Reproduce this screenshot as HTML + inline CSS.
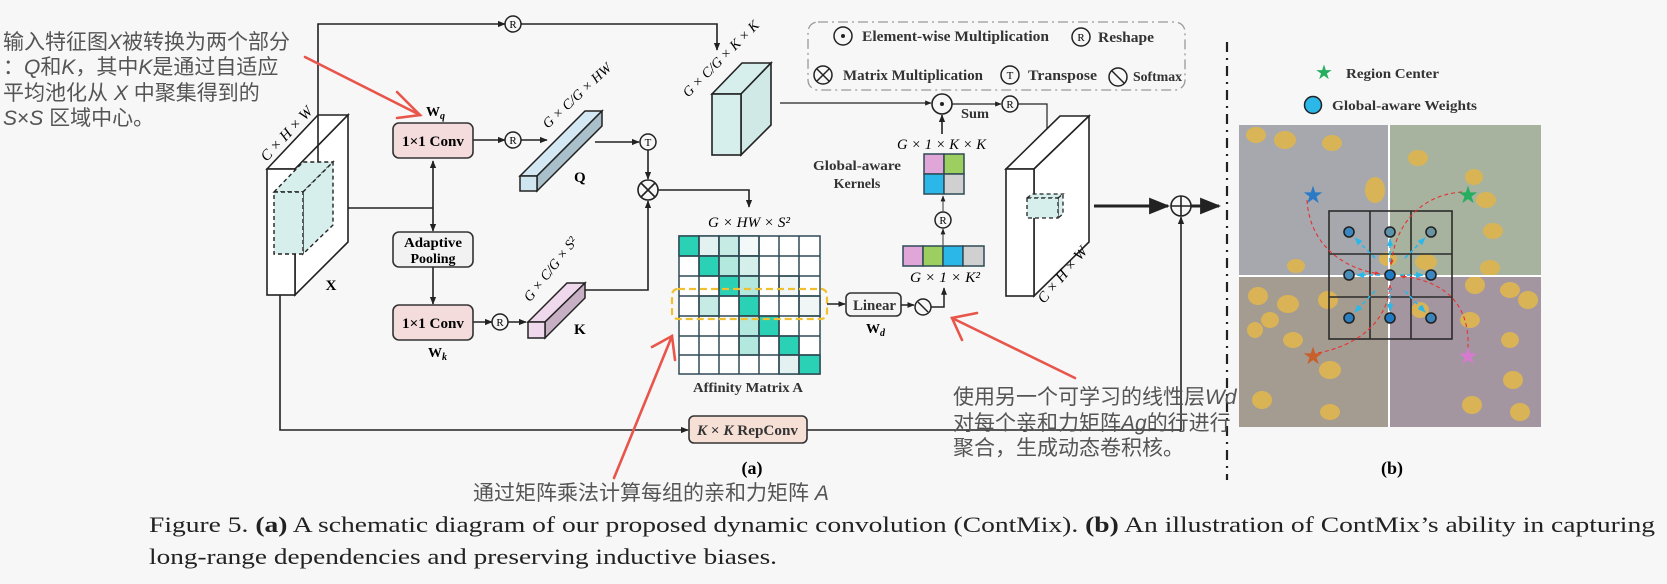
<!DOCTYPE html>
<html><head><meta charset="utf-8"><style>
html,body{margin:0;padding:0;background:#f7f7f7;}
svg{display:block;}
.s{font-family:"Liberation Serif",serif;}
.b{font-family:"Liberation Serif",serif;font-weight:bold;}
.cn{font-family:"Liberation Sans","Noto Sans CJK SC",sans-serif;fill:#555;}
</style></head><body>
<svg width="1667" height="584" viewBox="0 0 1667 584" xmlns="http://www.w3.org/2000/svg">
<defs>
<marker id="a" viewBox="0 0 10 10" refX="9" refY="5" markerWidth="7" markerHeight="7" orient="auto-start-reverse"><path d="M0,1 L10,5 L0,9 z" fill="#222"/></marker>
<marker id="ab" viewBox="0 0 10 10" refX="9" refY="5" markerWidth="5" markerHeight="5" orient="auto"><path d="M0,1 L10,5 L0,9 z" fill="#222"/></marker>
<marker id="ac" viewBox="0 0 10 10" refX="9" refY="5" markerWidth="5" markerHeight="5" orient="auto"><path d="M0,1 L10,5 L0,9 z" fill="#2bb7e8"/></marker>
<marker id="ar" viewBox="0 0 10 10" refX="9" refY="5" markerWidth="5" markerHeight="5" orient="auto"><path d="M0,1 L10,5 L0,9 z" fill="#e83030"/></marker>
</defs>
<rect width="1667" height="584" fill="#f7f7f7"/>

<g class="cn" font-size="21">
<text x="3" y="49">输入特征图<tspan font-style="italic">X</tspan>被转换为两个部分</text>
<text x="3" y="74">：<tspan font-style="italic">Q</tspan>和<tspan font-style="italic">K</tspan>，其中<tspan font-style="italic">K</tspan>是通过自适应</text>
<text x="3" y="100">平均池化从 <tspan font-style="italic">X</tspan> 中聚集得到的</text>
<text x="3" y="125"><tspan font-style="italic">S</tspan>×<tspan font-style="italic">S</tspan> 区域中心。</text>
</g>

<g stroke="#222" stroke-width="1.6" fill="none">
<polyline points="318,115 318,24 505,24" marker-end="url(#ab)"/>
<polyline points="521,24 717,24 717,50" marker-end="url(#ab)"/>
<polygon points="267,169 318,115 348,115 295,169" fill="#fff"/>
<polygon points="295,169 348,115 348,242 295,295" fill="#fff"/>
<rect x="267" y="169" width="28" height="126" fill="#fff"/>
</g>
<g stroke="#222" stroke-width="1.4" stroke-dasharray="4,3" fill="#d6efec">
<polygon points="274,192 303,162 333,162 303,192"/>
<polygon points="303,192 333,162 333,225 303,254"/>
<rect x="274" y="192" width="29" height="62"/>
</g>
<line x1="318" y1="115" x2="318" y2="162" stroke="#222" stroke-width="1.6"/>
<text x="290" y="137" class="s" font-size="15" font-style="italic" transform="rotate(-47 290 137)" text-anchor="middle">C × H × W</text>
<text x="331" y="290" class="b" font-size="15" text-anchor="middle">X</text>

<g stroke="#222" stroke-width="1.6" fill="none">
<polyline points="348,208 433,208"/>
<line x1="433" y1="208" x2="433" y2="161" marker-end="url(#ab)"/>
<line x1="433" y1="208" x2="433" y2="231" marker-end="url(#ab)"/>
<line x1="433" y1="267" x2="433" y2="304" marker-end="url(#ab)"/>
<line x1="473" y1="140" x2="505" y2="140" marker-end="url(#ab)"/>
<line x1="521" y1="140" x2="547" y2="140" marker-end="url(#ab)"/>
<line x1="473" y1="322" x2="492" y2="322" marker-end="url(#ab)"/>
<line x1="508" y1="322" x2="526" y2="322" marker-end="url(#ab)"/>
<polyline points="280,295 280,430 688,430" marker-end="url(#ab)"/>
<line x1="807" y1="430" x2="1181" y2="430"/>
<line x1="1181" y1="430" x2="1181" y2="217" marker-end="url(#ab)"/>
</g>
<rect x="393" y="123" width="80" height="35" rx="6" fill="#f5dcdc" stroke="#333" stroke-width="1.6"/>
<text x="402" y="146" class="b" font-size="15" textLength="62" lengthAdjust="spacingAndGlyphs">1×1 Conv</text>
<text x="426" y="116" class="b" font-size="14">W<tspan font-size="10" dy="3" font-style="italic">q</tspan></text>
<rect x="393" y="232" width="80" height="35" rx="6" fill="#f2f2f2" stroke="#333" stroke-width="1.6"/>
<text x="404" y="247" class="b" font-size="14" textLength="58" lengthAdjust="spacingAndGlyphs">Adaptive</text>
<text x="433" y="263" class="b" font-size="14" text-anchor="middle">Pooling</text>
<rect x="393" y="305" width="80" height="35" rx="6" fill="#f5dcdc" stroke="#333" stroke-width="1.6"/>
<text x="402" y="328" class="b" font-size="15" textLength="62" lengthAdjust="spacingAndGlyphs">1×1 Conv</text>
<text x="428" y="357" class="b" font-size="14">W<tspan font-size="10" dy="3" font-style="italic">k</tspan></text>

<g fill="#f7f7f7" stroke="#222" stroke-width="1.5">
<circle cx="513" cy="24" r="8"/><circle cx="513" cy="140" r="8"/><circle cx="500" cy="322" r="8"/>
<circle cx="1010" cy="104" r="8"/><circle cx="943" cy="220" r="8"/>
<circle cx="648" cy="142" r="8"/>
</g>
<g class="s" font-size="11" text-anchor="middle">
<text x="513" y="28">R</text><text x="513" y="144">R</text><text x="500" y="326">R</text>
<text x="1010" y="108">R</text><text x="943" y="224">R</text><text x="648" y="146">T</text>
</g>

<g stroke="#222" stroke-width="1.5">
<polygon points="520,176 585,111 602,111 537,176" fill="#d3e8f2"/>
<polygon points="537,176 602,111 602,126 537,191" fill="#a9bfca"/>
<rect x="520" y="176" width="17" height="15" fill="#cfe6f0"/>
</g>
<text x="574" y="182" class="b" font-size="15">Q</text>
<text x="580" y="99" class="s" font-size="14" font-style="italic" transform="rotate(-43 580 99)" text-anchor="middle">G × C/G × HW</text>
<g stroke="#222" stroke-width="1.5">
<polygon points="528,322 567,283 585,283 545,322" fill="#efd8ec"/>
<polygon points="545,322 585,283 585,298 545,338" fill="#c8b0c4"/>
<rect x="528" y="322" width="17" height="16" fill="#efd8ec"/>
</g>
<text x="574" y="334" class="b" font-size="15">K</text>
<text x="554" y="272" class="s" font-size="14" font-style="italic" transform="rotate(-52 554 272)" text-anchor="middle">G × C/G × S²</text>

<g stroke="#222" stroke-width="1.6" fill="none">
<line x1="595" y1="142" x2="639" y2="142" marker-end="url(#ab)"/>
<line x1="648" y1="150" x2="648" y2="179" marker-end="url(#ab)"/>
<polyline points="585,290 648,290 648,201" marker-end="url(#ab)"/>
<polyline points="658,190 749,190 749,207" marker-end="url(#ab)"/>
</g>
<circle cx="648" cy="190" r="10" fill="#f7f7f7" stroke="#222" stroke-width="1.6"/>
<path d="M641,183 L655,197 M655,183 L641,197" stroke="#222" stroke-width="1.6"/>

<g stroke="#222" stroke-width="1.6">
<polygon points="712,94 742,63 771,63 741,94" fill="#d6efec"/>
<polygon points="741,94 771,63 771,125 741,155" fill="#d0e9e6"/>
<rect x="712" y="94" width="29" height="61" fill="#d6efec"/>
</g>
<text x="724" y="62" class="s" font-size="14" font-style="italic" transform="rotate(-45 724 62)" text-anchor="middle">G × C/G × K × K</text>
<line x1="780" y1="103" x2="931" y2="103" stroke="#222" stroke-width="1.3" marker-end="url(#ab)"/>

<rect x="808" y="22" width="377" height="68" rx="10" fill="none" stroke="#999" stroke-width="1.3" stroke-dasharray="10,4,2,4"/>
<circle cx="843" cy="36" r="9" fill="none" stroke="#222" stroke-width="1.5"/><circle cx="843" cy="36" r="2" fill="#222"/>
<text x="862" y="41" class="b" font-size="15" fill="#333" textLength="187" lengthAdjust="spacingAndGlyphs">Element-wise Multiplication</text>
<circle cx="1081" cy="37" r="9" fill="none" stroke="#222" stroke-width="1.5"/><text x="1081" y="41" class="s" font-size="11" text-anchor="middle">R</text>
<text x="1098" y="42" class="b" font-size="15" fill="#333" textLength="56" lengthAdjust="spacingAndGlyphs">Reshape</text>
<circle cx="823" cy="75" r="9" fill="none" stroke="#222" stroke-width="1.5"/>
<path d="M817,69 L829,81 M829,69 L817,81" stroke="#222" stroke-width="1.5"/>
<text x="843" y="80" class="b" font-size="15" fill="#333" textLength="140" lengthAdjust="spacingAndGlyphs">Matrix Multiplication</text>
<circle cx="1010" cy="75" r="9" fill="none" stroke="#222" stroke-width="1.5"/><text x="1010" y="79" class="s" font-size="11" text-anchor="middle">T</text>
<text x="1028" y="80" class="b" font-size="15" fill="#333" textLength="69" lengthAdjust="spacingAndGlyphs">Transpose</text>
<circle cx="1118" cy="77" r="9" fill="none" stroke="#222" stroke-width="1.5"/>
<line x1="1112" y1="71" x2="1124" y2="83" stroke="#222" stroke-width="1.5"/>
<text x="1133" y="81" class="b" font-size="13.5" fill="#333" textLength="49" lengthAdjust="spacingAndGlyphs">Softmax</text>

<circle cx="942" cy="104" r="10" fill="#f7f7f7" stroke="#222" stroke-width="1.6"/><circle cx="942" cy="104" r="2" fill="#222"/>
<line x1="952" y1="104" x2="1001" y2="104" stroke="#222" stroke-width="1.3" marker-end="url(#ab)"/>
<text x="961" y="118" class="b" font-size="14" fill="#333" textLength="28" lengthAdjust="spacingAndGlyphs">Sum</text>
<polyline points="1018,104 1047,104 1047,193" fill="none" stroke="#222" stroke-width="1.2" marker-end="url(#ab)"/>
<line x1="942" y1="134" x2="942" y2="115" stroke="#222" stroke-width="1.6" marker-end="url(#ab)"/>
<text x="897" y="149" class="s" font-size="15" font-style="italic" textLength="89" lengthAdjust="spacingAndGlyphs">G × 1 × K × K</text>
<text x="813" y="170" class="b" font-size="14" fill="#333" textLength="88" lengthAdjust="spacingAndGlyphs">Global-aware</text>
<text x="857" y="188" class="b" font-size="14" text-anchor="middle" fill="#333">Kernels</text>
<g stroke="#2f4a55" stroke-width="1.5">
<rect x="924" y="154" width="20" height="20" fill="#e0a6d8"/><rect x="944" y="154" width="20" height="20" fill="#9ccf5f"/>
<rect x="924" y="174" width="20" height="20" fill="#2bb7e8"/><rect x="944" y="174" width="20" height="20" fill="#d0d0d0"/>
<rect x="903" y="246" width="20" height="20" fill="#e0a6d8"/><rect x="923" y="246" width="20" height="20" fill="#9ccf5f"/>
<rect x="943" y="246" width="20" height="20" fill="#2bb7e8"/><rect x="963" y="246" width="21" height="20" fill="#d0d0d0"/>
</g>
<line x1="943" y1="212" x2="943" y2="196" stroke="#555" stroke-width="1.2" marker-end="url(#ab)"/>
<line x1="943" y1="245" x2="943" y2="229" stroke="#555" stroke-width="1.2" marker-end="url(#ab)"/>
<text x="910" y="282" class="s" font-size="15" font-style="italic" textLength="70" lengthAdjust="spacingAndGlyphs">G × 1 × K²</text>

<text x="708" y="227" class="s" font-size="15" font-style="italic" textLength="82" lengthAdjust="spacingAndGlyphs">G × HW × S²</text>
<g stroke="#2f4a55" stroke-width="1.5">
<rect x="679" y="236" width="141" height="138" fill="#fff"/>
<rect x="679" y="236" width="20" height="20" fill="#2ad1b5"/><rect x="699" y="236" width="20" height="20" fill="#e3f2f0"/><rect x="719" y="236" width="20" height="20" fill="#c6ebe5"/><rect x="739" y="236" width="20" height="20" fill="#f3f8f8"/>
<rect x="699" y="256" width="20" height="20" fill="#2ad1b5"/><rect x="719" y="256" width="20" height="20" fill="#b2e8de"/><rect x="739" y="256" width="20" height="20" fill="#d5f0eb"/>
<rect x="719" y="276" width="20" height="20" fill="#2ad1b5"/><rect x="739" y="276" width="20" height="20" fill="#b2e8de"/><rect x="779" y="276" width="20" height="20" fill="#f0f6f6"/>
<rect x="699" y="296" width="20" height="20" fill="#c6ebe5"/><rect x="739" y="296" width="20" height="20" fill="#2ad1b5"/><rect x="799" y="296" width="21" height="20" fill="#f0f6f6"/>
<rect x="739" y="316" width="20" height="20" fill="#b2e8de"/><rect x="759" y="316" width="20" height="20" fill="#2ad1b5"/>
<rect x="739" y="336" width="20" height="19" fill="#b2e8de"/><rect x="779" y="336" width="20" height="19" fill="#2ad1b5"/>
<rect x="779" y="355" width="20" height="19" fill="#e3f2f0"/><rect x="799" y="355" width="21" height="19" fill="#2ad1b5"/>
<path d="M699,236V374M719,236V374M739,236V374M759,236V374M779,236V374M799,236V374M679,256H820M679,276H820M679,296H820M679,316H820M679,336H820M679,355H820" fill="none"/>
</g>
<rect x="672" y="289" width="155" height="30" rx="6" fill="none" stroke="#f0c030" stroke-width="2.2" stroke-dasharray="7,4"/>
<text x="693" y="392" class="b" font-size="14" fill="#333" textLength="110" lengthAdjust="spacingAndGlyphs">Affinity Matrix A</text>
<line x1="827" y1="304" x2="845" y2="304" stroke="#222" stroke-width="1.5" marker-end="url(#ab)"/>
<rect x="846" y="293" width="55" height="23" rx="5" fill="#f5f5f5" stroke="#333" stroke-width="1.6"/>
<text x="853" y="310" class="b" font-size="15" fill="#333" textLength="43" lengthAdjust="spacingAndGlyphs">Linear</text>
<text x="866" y="333" class="b" font-size="14">W<tspan font-size="10" dy="3" font-style="italic">d</tspan></text>
<line x1="901" y1="305" x2="914" y2="305" stroke="#222" stroke-width="1.5" marker-end="url(#ab)"/>
<circle cx="923" cy="307" r="8" fill="#f7f7f7" stroke="#222" stroke-width="1.5"/>
<line x1="918" y1="302" x2="928" y2="312" stroke="#222" stroke-width="1.5"/>
<polyline points="931,307 944,307 944,288" fill="none" stroke="#222" stroke-width="1.5" marker-end="url(#ab)"/>

<rect x="689" y="416" width="118" height="27" rx="5" fill="#f6e0d6" stroke="#333" stroke-width="1.6"/>
<text x="697" y="435" class="b" font-size="15" fill="#333" textLength="101" lengthAdjust="spacingAndGlyphs"><tspan font-style="italic">K</tspan> × <tspan font-style="italic">K</tspan> RepConv</text>
<text x="752" y="474" class="b" font-size="18" text-anchor="middle">(a)</text>

<g stroke="#222" stroke-width="1.6">
<polygon points="1006,169 1060,116 1089,116 1034,169" fill="#fff"/>
<polygon points="1034,169 1089,116 1089,242 1034,296" fill="#fff"/>
<rect x="1006" y="169" width="28" height="127" fill="#fff"/>
</g>
<g stroke="#222" stroke-width="1.3" stroke-dasharray="4,3" fill="#d6efec">
<polygon points="1027,198 1032,194 1063,194 1058,198"/>
<polygon points="1058,198 1063,194 1063,214 1058,218"/>
<rect x="1027" y="198" width="31" height="20"/>
</g>
<text x="1066" y="278" class="s" font-size="15" font-style="italic" transform="rotate(-50 1066 278)" text-anchor="middle">C × H × W</text>
<line x1="1094" y1="206" x2="1168" y2="206" stroke="#222" stroke-width="3" marker-end="url(#a)"/>
<line x1="1191" y1="206" x2="1219" y2="206" stroke="#222" stroke-width="3" marker-end="url(#a)"/>
<circle cx="1181" cy="206" r="10" fill="#f7f7f7" stroke="#222" stroke-width="1.6"/>
<path d="M1171,206H1191M1181,196V216" stroke="#222" stroke-width="1.6"/>

<line x1="1227" y1="42" x2="1227" y2="480" stroke="#222" stroke-width="2.2" stroke-dasharray="10,6,2,6"/>

<text x="1324" y="79" font-size="20" fill="#27ae60" text-anchor="middle">★</text>
<text x="1346" y="78" class="b" font-size="14" fill="#333" textLength="93" lengthAdjust="spacingAndGlyphs">Region Center</text>
<circle cx="1313" cy="105" r="8.5" fill="#2bb7e8" stroke="#222" stroke-width="1.5"/>
<text x="1332" y="110" class="b" font-size="14" fill="#333" textLength="145" lengthAdjust="spacingAndGlyphs">Global-aware Weights</text>

<rect x="1239" y="125" width="150" height="151" fill="#a6a8ad"/>
<rect x="1389" y="125" width="152" height="151" fill="#a7b39f"/>
<rect x="1239" y="276" width="150" height="151" fill="#a49b91"/>
<rect x="1389" y="276" width="152" height="151" fill="#a396a1"/>
<g fill="#dcb552" opacity="0.95">
<ellipse cx="1256" cy="135" rx="10" ry="8"/><ellipse cx="1285" cy="140" rx="11" ry="9"/><ellipse cx="1332" cy="143" rx="10" ry="8"/>
<ellipse cx="1375" cy="190" rx="10" ry="13"/><ellipse cx="1418" cy="158" rx="10" ry="8"/><ellipse cx="1474" cy="177" rx="9" ry="8"/>
<ellipse cx="1486" cy="200" rx="10" ry="8"/><ellipse cx="1493" cy="231" rx="10" ry="8"/><ellipse cx="1426" cy="262" rx="11" ry="8"/>
<ellipse cx="1490" cy="268" rx="10" ry="8"/><ellipse cx="1388" cy="259" rx="9" ry="7"/><ellipse cx="1296" cy="266" rx="9" ry="7"/>
<ellipse cx="1258" cy="296" rx="10" ry="9"/><ellipse cx="1288" cy="304" rx="11" ry="9"/><ellipse cx="1328" cy="300" rx="10" ry="9"/>
<ellipse cx="1270" cy="320" rx="9" ry="8"/><ellipse cx="1255" cy="330" rx="8" ry="8"/><ellipse cx="1293" cy="340" rx="10" ry="8"/>
<ellipse cx="1330" cy="370" rx="11" ry="9"/><ellipse cx="1262" cy="400" rx="10" ry="9"/><ellipse cx="1330" cy="412" rx="10" ry="8"/>
<ellipse cx="1475" cy="285" rx="10" ry="9"/><ellipse cx="1510" cy="290" rx="10" ry="8"/><ellipse cx="1528" cy="300" rx="10" ry="9"/>
<ellipse cx="1470" cy="320" rx="10" ry="8"/><ellipse cx="1510" cy="340" rx="9" ry="8"/><ellipse cx="1513" cy="380" rx="10" ry="9"/>
<ellipse cx="1472" cy="405" rx="10" ry="9"/><ellipse cx="1420" cy="310" rx="9" ry="8"/><ellipse cx="1520" cy="412" rx="10" ry="9"/>
</g>
<path d="M1389,125V427M1239,276H1541" stroke="#fff" stroke-width="2"/>
<g stroke="#2b2b2b" stroke-width="1.6" fill="none">
<rect x="1329" y="211" width="123" height="128"/>
<path d="M1370,211V339M1411,211V339M1329,254H1452M1329,297H1452"/>
</g>
<g stroke="#e83030" stroke-width="1.1" fill="none" stroke-dasharray="4,3">
<path d="M1307,200 C1310,250 1350,270 1380,274" marker-end="url(#ar)"/>
<path d="M1462,192 C1420,195 1395,225 1391,265" marker-end="url(#ar)"/>
<path d="M1318,353 C1360,345 1388,320 1390,285" marker-end="url(#ar)"/>
<path d="M1468,348 C1470,300 1440,280 1400,276" marker-end="url(#ar)"/>
</g>
<g stroke="#2bb7e8" stroke-width="1.6" stroke-dasharray="4,3" fill="none">
<line x1="1375" y1="258" x2="1355" y2="238" marker-end="url(#ac)"/>
<line x1="1390" y1="262" x2="1390" y2="239" marker-end="url(#ac)"/>
<line x1="1405" y1="258" x2="1425" y2="238" marker-end="url(#ac)"/>
<line x1="1380" y1="275" x2="1357" y2="275" marker-end="url(#ac)"/>
<line x1="1400" y1="275" x2="1423" y2="275" marker-end="url(#ac)"/>
<line x1="1375" y1="291" x2="1355" y2="312" marker-end="url(#ac)"/>
<line x1="1390" y1="288" x2="1390" y2="311" marker-end="url(#ac)"/>
<line x1="1405" y1="291" x2="1425" y2="312" marker-end="url(#ac)"/>
</g>
<g stroke="#222" stroke-width="1.6">
<circle cx="1349" cy="232" r="5" fill="#3a87c2"/><circle cx="1390" cy="232" r="5" fill="#5b93ad"/><circle cx="1431" cy="232" r="5" fill="#6a93a0"/>
<circle cx="1349" cy="275" r="5" fill="#4a8dbd"/><circle cx="1390" cy="275" r="5" fill="#1f7cc4"/><circle cx="1431" cy="275" r="5" fill="#3a87c2"/>
<circle cx="1349" cy="318" r="5" fill="#2a7fc0"/><circle cx="1390" cy="318" r="5" fill="#1f7cc4"/><circle cx="1431" cy="318" r="5" fill="#3a83bb"/>
</g>
<g font-size="24" text-anchor="middle">
<text x="1313" y="203" fill="#2a7ac5">★</text><text x="1468" y="203" fill="#27ae60">★</text>
<text x="1313" y="364" fill="#c8602c">★</text><text x="1468" y="364" fill="#d67ad0">★</text>
</g>
<text x="1392" y="474" class="b" font-size="18" text-anchor="middle">(b)</text>

<g class="cn" font-size="21">
<text x="953" y="404">使用另一个可学习的线性层<tspan font-style="italic">Wd</tspan></text>
<text x="953" y="430">对每个亲和力矩阵<tspan font-style="italic">Ag</tspan>的行进行</text>
<text x="953" y="455">聚合，生成动态卷积核。</text>
<text x="473" y="500">通过矩阵乘法计算每组的亲和力矩阵 <tspan font-style="italic">A</tspan></text>
</g>

<g stroke="#e8554a" stroke-width="2.6" fill="none" stroke-linecap="round">
<line x1="305" y1="57" x2="420" y2="115"/><polyline points="397,92 420,115 397,118"/>
<line x1="1075" y1="378" x2="952" y2="318"/><polyline points="962,340 952,318 977,313"/>
<line x1="614" y1="478" x2="672" y2="336"/><polyline points="652,347 672,336 675,360"/>
</g>

<g class="s" font-size="22" fill="#222">
<text x="149" y="532" textLength="1506" lengthAdjust="spacingAndGlyphs">Figure 5. <tspan font-weight="bold">(a)</tspan> A schematic diagram of our proposed dynamic convolution (ContMix). <tspan font-weight="bold">(b)</tspan> An illustration of ContMix’s ability in capturing</text>
<text x="149" y="564" textLength="628" lengthAdjust="spacingAndGlyphs">long-range dependencies and preserving inductive biases.</text>
</g>
</svg>
</body></html>
